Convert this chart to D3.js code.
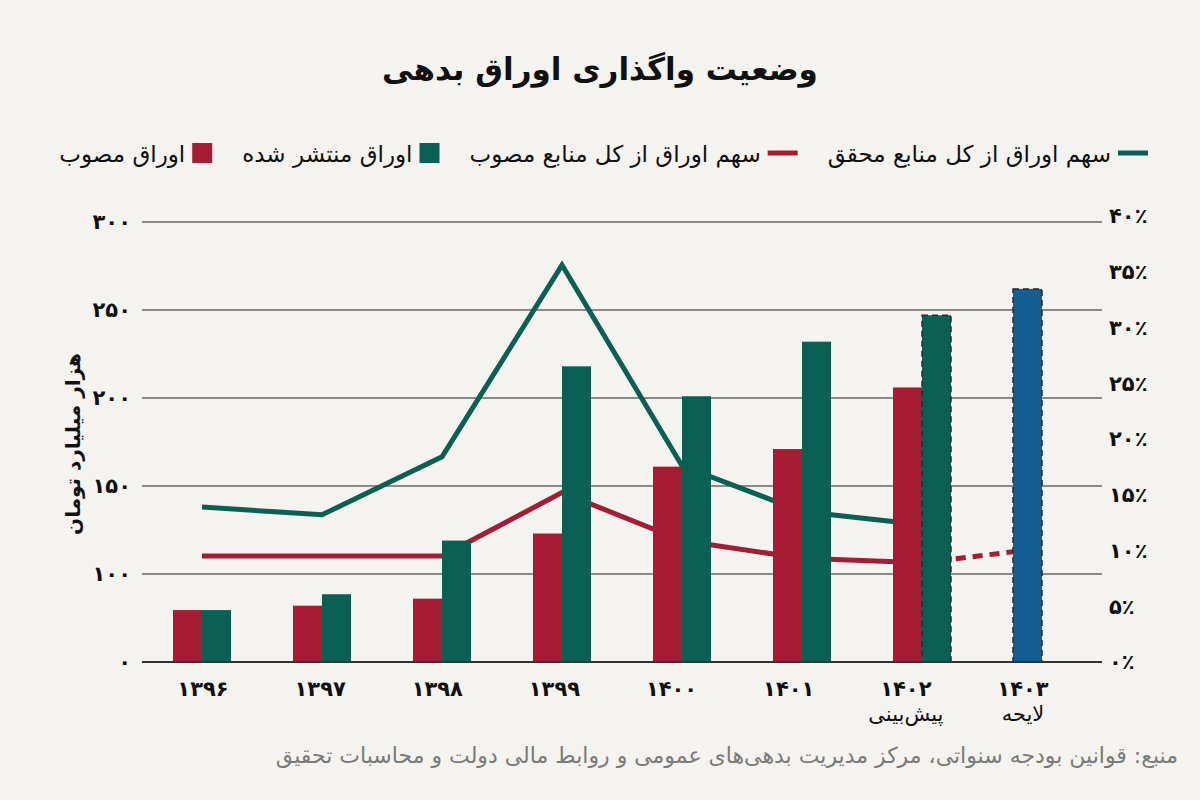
<!DOCTYPE html>
<html lang="fa">
<head>
<meta charset="utf-8">
<script src="https://cdn.jsdelivr.net/npm/d3@7/dist/d3.min.js"></script>
<style>
  html, body { margin: 0; background: #f4f3ef; }
  svg { display: block; font-family: "DejaVu Sans", "Noto Sans", sans-serif; }
</style>
</head>
<body>
<div id="chart"></div>
<script>
// Data
const years = ["1396", "1397", "1398", "1399", "1400", "1401", "1402", "1403"];
const yearNotes = ["", "", "", "", "", "", "پیش‌بینی", "لایحه"];
const approvedBonds = [59, 64, 72, 123, 161, 171, 206, null]; // اوراق مصوب
const issuedBonds = [59, 77, 119, 218, 201, 232, 247, null]; // اوراق منتشر شده
const billBonds = [null, null, null, null, null, null, null, 262]; // لایحه ۱۴۰۳
const shareRealized = [13.9, 13.2, 18.4, 35.6, 17.6, 13.5, 12.3, null];
const shareApproved = [9.5, 9.5, 9.5, 15.2, 10.9, 9.3, 8.9, 10.2];
const leftTicks = [0, 100, 150, 200, 250, 300];
const rightTicks = [0, 5, 10, 15, 20, 25, 30, 35, 40];
const legendLabels = [
  "سهم اوراق از کل منابع محقق",
  "سهم اوراق از کل منابع مصوب",
  "اوراق منتشر شده",
  "اوراق مصوب",
];

const width = 1200;
const height = 800;
const colorRed = "#a61c34";
const colorGreen = "#0a6052";
const colorBlue = "#145e93";
const legendColors = [colorGreen, colorRed, colorGreen, colorRed];
const legendKinds = ["line", "line", "rect", "rect"];

const fa = (s) => String(s).replace(/\d/g, (c) => "۰۱۲۳۴۵۶۷۸۹"[c]);

const margin = { top: 222, right: 98, bottom: 138, left: 142 };
const plotBottom = height - margin.bottom;
const plotRight = width - margin.right;

const svg = d3
  .select("#chart")
  .append("svg")
  .attr("width", width)
  .attr("height", height)
  .attr("viewBox", [0, 0, width, height]);

svg.append("rect").attr("width", width).attr("height", height).attr("fill", "#f4f3ef");

// Scales
const x = d3.scaleBand().domain(years).range([margin.left, plotRight]);
const xLabel = d3.scalePoint().domain(years).range([203, 1023]);
// left axis ticks are evenly spaced although their values are not
const step = (plotBottom - margin.top) / (leftTicks.length - 1);
const y = d3
  .scaleLinear()
  .domain(leftTicks)
  .range(leftTicks.map((d, i) => plotBottom - i * step));
const yR = d3.scaleLinear().domain([0, 40]).range([plotBottom, 216]);
const barW = 29;
const cx = (yr) => x(yr) + x.bandwidth() / 2;

// Title
svg
  .append("text")
  .attr("x", width / 2)
  .attr("y", 80)
  .attr("text-anchor", "middle")
  .attr("font-size", 31)
  .attr("font-weight", "bold")
  .attr("fill", "#111")
  .text("وضعیت واگذاری اوراق بدهی");

// Legend, laid out right to left
const gLegend = svg.append("g").attr("class", "legend");
let lx = 1148;
legendLabels.forEach((label, i) => {
  const isLine = legendKinds[i] === "line";
  const sw = isLine ? 30 : 20;
  if (isLine) {
    gLegend
      .append("line")
      .attr("x1", lx - sw)
      .attr("x2", lx)
      .attr("y1", 153)
      .attr("y2", 153)
      .attr("stroke", legendColors[i])
      .attr("stroke-width", 5);
  } else {
    gLegend
      .append("rect")
      .attr("x", lx - sw)
      .attr("y", 143)
      .attr("width", sw)
      .attr("height", sw)
      .attr("fill", legendColors[i]);
  }
  lx -= sw + 7;
  const t = gLegend
    .append("text")
    .attr("x", lx)
    .attr("y", 162)
    .attr("text-anchor", "end")
    .attr("font-size", 23)
    .attr("fill", "#111")
    .text(label);
  lx -= t.node().getComputedTextLength() + 30;
});

// Grid lines
svg
  .append("g")
  .attr("class", "grid")
  .selectAll("line")
  .data(leftTicks)
  .join("line")
  .attr("x1", margin.left)
  .attr("x2", plotRight)
  .attr("y1", (d) => y(d))
  .attr("y2", (d) => y(d))
  .attr("stroke", "#222")
  .attr("stroke-width", 1.1);

// Left axis labels
svg
  .append("g")
  .attr("class", "axis axis--left")
  .selectAll("text")
  .data(leftTicks)
  .join("text")
  .attr("x", 131)
  .attr("y", (d) => y(d))
  .attr("dy", "0.35em")
  .attr("text-anchor", "end")
  .attr("font-size", 21)
  .attr("font-weight", "bold")
  .attr("fill", "#111")
  .text((d) => fa(d));

svg
  .append("text")
  .attr("transform", `translate(80,${(margin.top + plotBottom) / 2 + 2}) rotate(-90)`)
  .attr("text-anchor", "middle")
  .attr("font-size", 20)
  .attr("font-weight", "bold")
  .attr("fill", "#111")
  .text("هزار میلیارد تومان");

// Right axis labels
svg
  .append("g")
  .attr("class", "axis axis--right")
  .selectAll("text")
  .data(rightTicks)
  .join("text")
  .attr("x", 1109)
  .attr("y", (d) => yR(d))
  .attr("dy", "0.35em")
  .attr("text-anchor", "start")
  .attr("font-size", 21)
  .attr("font-weight", "bold")
  .attr("fill", "#111")
  .text((d) => fa(d) + "٪");

// Lines (drawn under the bars)
const line = d3
  .line()
  .defined((d) => d.value != null)
  .x((d) => cx(d.year))
  .y((d) => yR(d.value));
const realized = years.map((yr, i) => ({ year: yr, value: shareRealized[i] }));
const approved = years.map((yr, i) => ({ year: yr, value: shareApproved[i] }));
const gLines = svg.append("g").attr("class", "lines").attr("fill", "none");
gLines
  .append("path")
  .attr("d", line(realized))
  .attr("stroke", colorGreen)
  .attr("stroke-width", 5)
  .attr("stroke-linejoin", "miter");
gLines
  .append("path")
  .attr("d", line(approved.slice(0, 7)))
  .attr("stroke", colorRed)
  .attr("stroke-width", 5)
  .attr("stroke-linejoin", "miter");
gLines
  .append("path")
  .attr("d", line(approved.slice(6)))
  .attr("stroke", colorRed)
  .attr("stroke-width", 5)
  .attr("stroke-dasharray", "10,7");

// Bars
const bars = [];
years.forEach((yr, i) => {
  if (approvedBonds[i] != null)
    bars.push({ year: yr, value: approvedBonds[i], slot: -1, color: colorRed, dashed: false });
  if (issuedBonds[i] != null)
    bars.push({ year: yr, value: issuedBonds[i], slot: 0, color: colorGreen, dashed: i === 6 });
  if (billBonds[i] != null)
    bars.push({ year: yr, value: billBonds[i], slot: -1, color: colorBlue, dashed: true });
});
svg
  .append("g")
  .attr("class", "bars")
  .selectAll("rect")
  .data(bars)
  .join("rect")
  .attr("x", (d) => cx(d.year) + d.slot * barW)
  .attr("y", (d) => y(d.value))
  .attr("width", barW)
  .attr("height", (d) => y(0) - y(d.value))
  .attr("fill", (d) => d.color)
  .attr("stroke", (d) => (d.dashed ? "#2a2a2a" : "none"))
  .attr("stroke-width", 1.5)
  .attr("stroke-dasharray", "6,4");

// Baseline over the bars
svg
  .append("line")
  .attr("x1", margin.left)
  .attr("x2", plotRight)
  .attr("y1", y(0))
  .attr("y2", y(0))
  .attr("stroke", "#333")
  .attr("stroke-width", 1.8);

// X labels
const gx = svg.append("g").attr("class", "axis axis--x");
gx.selectAll(".year")
  .data(years)
  .join("text")
  .attr("class", "year")
  .attr("x", (d) => xLabel(d))
  .attr("y", 696)
  .attr("text-anchor", "middle")
  .attr("font-size", 21)
  .attr("font-weight", "bold")
  .attr("fill", "#111")
  .text((d) => fa(d));
gx.selectAll(".note")
  .data(years.filter((d, i) => yearNotes[i]))
  .join("text")
  .attr("class", "note")
  .attr("x", (d) => xLabel(d))
  .attr("y", 721)
  .attr("text-anchor", "middle")
  .attr("font-size", 21)
  .attr("fill", "#111")
  .text((d) => yearNotes[years.indexOf(d)]);

// Source
svg
  .append("text")
  .attr("x", 1178)
  .attr("y", 763)
  .attr("text-anchor", "end")
  .attr("font-size", 22)
  .attr("fill", "#7a7a7a")
  .text("منبع: قوانین بودجه سنواتی، مرکز مدیریت بدهی‌های عمومی و روابط مالی دولت و محاسبات تحقیق");
</script>
</body>
</html>
